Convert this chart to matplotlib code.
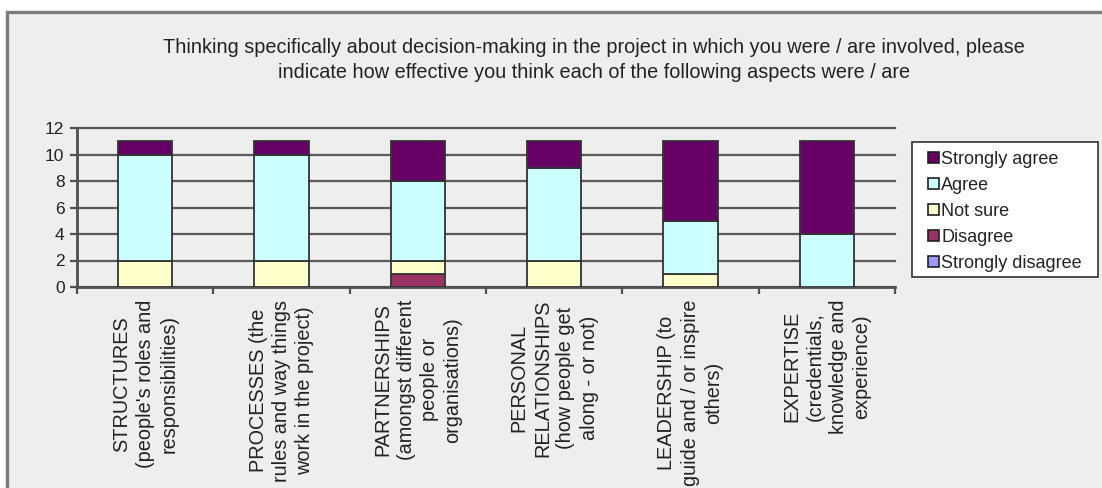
import matplotlib
matplotlib.use("Agg")
import matplotlib.pyplot as plt
from matplotlib.patches import Rectangle, Patch
import numpy as np

plt.rcParams['font.family'] = ['Liberation Sans', 'DejaVu Sans']

categories = [
    "STRUCTURES\n(people's roles and\nresponsibilities)",
    "PROCESSES (the\nrules and way things\nwork in the project)",
    "PARTNERSHIPS\n(amongst different\npeople or\norganisations)",
    "PERSONAL\nRELATIONSHIPS\n(how people get\nalong - or not)",
    "LEADERSHIP (to\nguide and / or inspire\nothers)",
    "EXPERTISE\n(credentials,\nknowledge and\nexperience)",
]
series_names = ["Strongly disagree", "Disagree", "Not sure", "Agree", "Strongly agree"]
strongly_disagree = [0, 0, 0, 0, 0, 0]
disagree = [0, 0, 1, 0, 0, 0]
not_sure = [2, 2, 1, 2, 1, 0]
agree = [8, 8, 6, 7, 4, 4]
strongly_agree = [1, 1, 3, 2, 6, 7]
colors = ["#9999FF", "#993366", "#FFFFCC", "#CCFFFF", "#660066"]
title = ("Thinking specifically about decision-making in the project in which you were / are involved, please\n"
         "indicate how effective you think each of the following aspects were / are")

W, H = 1102, 488
fig = plt.figure(figsize=(W / 100, H / 100), dpi=100)
fig.patch.set_facecolor("white")
frame = Rectangle((6.5 / W, -0.1), 1.2, 1 - 12.5 / H + 0.1, transform=fig.transFigure,
                  facecolor="#EEEEEE", edgecolor="#7A7A7A", linewidth=2.4, zorder=-5)
fig.patches.append(frame)

ax = fig.add_axes([77 / W, 1 - 287 / H, (895 - 77) / W, (287 - 128) / H])
ax.set_facecolor("none")

x = np.arange(len(categories))
data = [strongly_disagree, disagree, not_sure, agree, strongly_agree]
bottom = np.zeros(len(categories))
for name, vals, col in zip(series_names, data, colors):
    vals = np.array(vals, dtype=float)
    ax.bar(x, vals, bottom=bottom, width=0.4, color=col, edgecolor="#333333",
           linewidth=1.3, zorder=3, label=name)
    bottom += vals

ax.set_xlim(-0.5, len(categories) - 0.5)
ax.set_ylim(0, 12)
ax.set_yticks(range(0, 13, 2))
ax.yaxis.grid(True, color="#5A5A5A", linewidth=1.6, zorder=1)
for gl in ax.get_ygridlines():
    gl.set_clip_on(False)
ax.set_axisbelow(True)
for s in ["top", "right"]:
    ax.spines[s].set_visible(False)
for s in ["left", "bottom"]:
    ax.spines[s].set_color("#505050")
    ax.spines[s].set_linewidth(2.0)
ax.tick_params(axis="y", labelsize=12.5, length=5, width=1.6, color="#505050", pad=4,
               labelcolor="#222222")
ax.set_xticks(x)
ax.set_xticklabels(categories, rotation=90, fontsize=14.3, ha="center", va="top",
                   multialignment="center", linespacing=1.3, color="#222222")
ax.tick_params(axis="x", length=0, pad=9)
ax.set_xticks(np.arange(-0.5, len(categories)), minor=True)
ax.tick_params(axis="x", which="minor", length=5, width=1.6, color="#505050")

fig.text(594 / W, 1 - 60 / H, title, ha="center", va="center", fontsize=14.3,
         linespacing=1.35, color="#222222")

# legend box drawn in figure pixels
lx0, lx1, ly0, ly1 = 912, 1098, 142, 277
box = Rectangle((lx0 / W, 1 - ly1 / H), (lx1 - lx0) / W, (ly1 - ly0) / H,
                transform=fig.transFigure, facecolor="white", edgecolor="#404040",
                linewidth=1.3, zorder=1)
fig.patches.append(box)
handles = [Patch(facecolor=c, edgecolor="#202020", linewidth=1.2) for c in colors][::-1]
labels = series_names[::-1]
leg = fig.legend(handles, labels, loc="center",
                 bbox_to_anchor=((lx0 + lx1) / 2 / W, 1 - ((ly0 + ly1) / 2 + 2) / H),
                 fontsize=13, frameon=False, handlelength=0.6,
                 handleheight=0.6, handletextpad=0.15, labelspacing=0.5,
                 borderpad=0.0, borderaxespad=0)
leg.set_zorder(2)
for t in leg.get_texts():
    t.set_color("#222222")

fig.savefig("out.png", dpi=100, facecolor=fig.get_facecolor())
